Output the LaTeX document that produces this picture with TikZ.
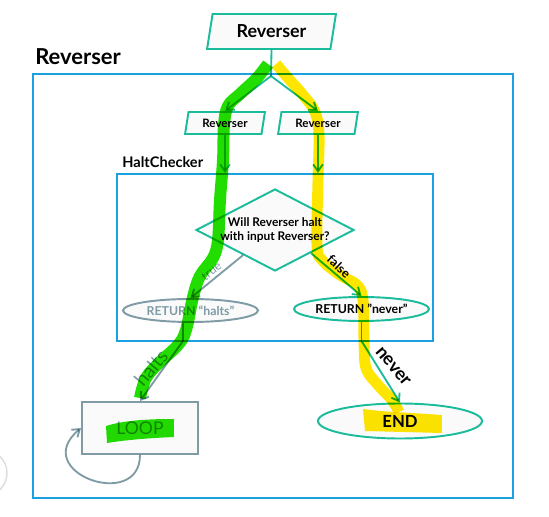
\documentclass[tikz,border=0pt]{standalone}
\usepackage{fontspec}
\setmainfont{Lato}
\usetikzlibrary{shapes.geometric,arrows.meta,calc}
\definecolor{teal1}{HTML}{1ABC9C}
\definecolor{blue1}{HTML}{1BA1E2}
\definecolor{gray1}{HTML}{7F9BA6}
\definecolor{hlgreen}{HTML}{22DD00}
\definecolor{hlyellow}{HTML}{FFE600}
\definecolor{nodefill}{HTML}{FAFAFA}
\definecolor{faint}{HTML}{DDDDDD}
\newcommand{\pxu}{0.02cm}
\begin{document}
\begin{tikzpicture}[x=0.02cm,y=-0.02cm,
  frame/.style={draw=blue1,line width=1.2pt,inner sep=0pt},
  para/.style={trapezium,trapezium left angle=76,trapezium right angle=104,trapezium stretches=true,draw=teal1,fill=nodefill,line width=1.1pt,inner sep=0pt},
  oval/.style={ellipse,fill=nodefill,line width=1.1pt,inner sep=0pt},
  conn/.style={draw=teal1,line width=1.05pt,-{Straight Barb[length=4pt,width=5.5pt]}},
  gconn/.style={draw=gray1,line width=1.05pt,-{Straight Barb[length=4pt,width=5.5pt]}},
  hlg/.style={draw=hlgreen,line width=6.8pt,line join=round},
  hly/.style={draw=hlyellow,line width=6.2pt,line join=round}]
\clip (0,0) rectangle (549,517);
\fill[white] (0,0) rectangle (549,517);
% faint partial circle at left edge
\draw[faint,line width=0.8pt] (-16,473) circle (23);
% frames
\node[frame,minimum width=480*\pxu,minimum height=424*\pxu] (outer) at (273,286) {};
\node[anchor=base west,inner sep=0pt,font=\fontsize{12.5}{14}\selectfont\bfseries] (outerlbl) at (35,65) {Reverser};
\node[frame,minimum width=316*\pxu,minimum height=167*\pxu] (hc) at (275,257.5) {};
\node[anchor=base west,inner sep=0pt,font=\fontsize{8.3}{10}\selectfont\bfseries] (hclbl) at (122,168) {HaltChecker};
% nodes
\node[para,minimum width=129*\pxu,minimum height=35*\pxu,font=\fontsize{10.2}{12}\selectfont\bfseries] (top) at (271.5,31.5) {Reverser};
\node[para,minimum width=80*\pxu,minimum height=22*\pxu,font=\fontsize{6.6}{8}\selectfont\bfseries] (lr) at (225,123) {Reverser};
\node[para,minimum width=80*\pxu,minimum height=22*\pxu,font=\fontsize{6.6}{8}\selectfont\bfseries] (rr) at (318,123) {Reverser};
\node[diamond,aspect=1.93,draw=teal1,fill=nodefill,line width=1.1pt,inner sep=0pt,minimum width=158*\pxu,minimum height=82*\pxu,align=center,font=\fontsize{6.8}{8}\selectfont\bfseries] (q) at (275,230) {Will Reverser halt\\with input Reverser?};
\node[oval,draw=gray1,text=gray1,minimum width=135*\pxu,minimum height=23*\pxu,font=\fontsize{7}{8}\selectfont\bfseries] (rh) at (190.5,310.5) {RETURN “halts”};
\node[oval,draw=teal1,minimum width=135*\pxu,minimum height=24*\pxu,font=\fontsize{7}{8}\selectfont\bfseries] (rn) at (361.5,309) {RETURN "never"};
\node[draw=gray1,fill=nodefill,line width=1.1pt,minimum width=116*\pxu,minimum height=52*\pxu,text=gray1,font=\fontsize{10}{12}\selectfont] (loop) at (140,428) {LOOP};
\node[oval,draw=teal1,minimum width=164*\pxu,minimum height=35*\pxu,font=\fontsize{9.5}{11}\selectfont\bfseries] (end) at (400,421) {END};
% ports
\coordinate (j) at (271,76);
\coordinate (ph) at (183,341);
\coordinate (pn) at (361.5,341);
\begin{scope}[blend mode=multiply]
% highlights
\draw[hlg] plot[smooth,tension=0.6] coordinates {(268,64) (257,78) (240,94) (228,106) (224,125) (223,160) (220,200) (218,240) (213,258) (200,276) (193,297) (186,330) (178,345) (160,362) (146,378) (140,398)};
\fill[hlgreen] (106,426) .. controls (125,420) and (150,419) .. (174,419) -- (174,437) .. controls (150,438) and (125,440) .. (107,443) -- cycle;
\draw[hly] plot[smooth,tension=0.6] coordinates {(276,64) (288,78) (303,95) (315,112) (319,135) (318,180) (317,245) (322,260) (340,275) (357,285) (363,300) (364,340) (366,368) (378,385) (392,400) (399,412)};
\fill[hlyellow] (363,409) -- (380,411) -- (442,415) -- (442,433) -- (365,431) -- cycle;
% connectors
\draw[draw=teal1,line width=1.05pt] (top.south) -- (j);
\draw[conn] (j) -- (lr.north);
\draw[conn] (j) -- (rr.north);
\draw[conn] (lr.south) -- (lr.south |- hc.north);
\draw[conn] (rr.south) -- (rr.south |- hc.north);
\draw[gconn] ($(q.west)!0.6!(q.south)$) -- (rh.north);
\draw[conn] ($(q.east)!0.55!(q.south)$) -- (rn.north);
\draw[draw=gray1,line width=1.05pt] (rh.south -| ph) -- (ph);
\draw[gconn] (ph) -- (loop.north);
\draw[draw=teal1,line width=1.05pt] (rn.south) -- (pn);
\draw[conn] (pn) -- (end.north);
\draw[gconn] (loop.south) .. controls (140,512) and (28,472) .. (loop.west);
% labels
\node[rotate=37,text=gray1,font=\fontsize{6.8}{8}\selectfont] (ltrue) at (211.5,271.5) {true};
\node[rotate=-43,font=\fontsize{7.2}{8}\selectfont\bfseries] (lfalse) at (339,266.5) {false};
\node[rotate=50,text=gray1,font=\fontsize{11}{12}\selectfont] (lhalts) at (151,368) {halts};
\node[rotate=-50,font=\fontsize{10.3}{12}\selectfont\bfseries] (lnever) at (393,366.5) {never};
\end{scope}
\end{tikzpicture}
\end{document}
